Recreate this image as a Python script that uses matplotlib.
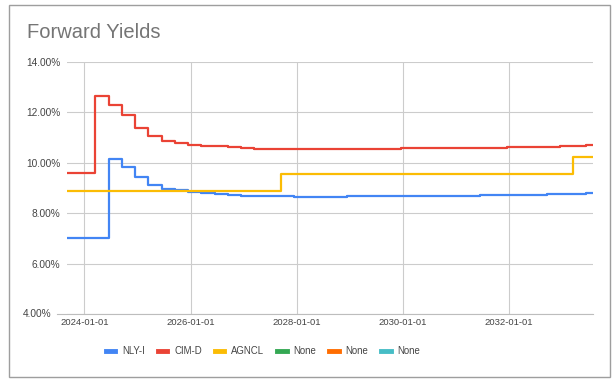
import matplotlib
matplotlib.use("Agg")
import matplotlib.pyplot as plt
from matplotlib.lines import Line2D
from matplotlib.patches import Rectangle
import pandas as pd

plt.rcParams['font.family'] = ['Liberation Sans', 'DejaVu Sans']

# quarterly reset dates (first = start of data, last = end of data)
dates = pd.to_datetime([
    "2023-08-31", "2023-12-15",
    "2024-03-15", "2024-06-15", "2024-09-15", "2024-12-15",
    "2025-03-15", "2025-06-15", "2025-09-15", "2025-12-15",
    "2026-03-15", "2026-06-15", "2026-09-15", "2026-12-15",
    "2027-03-15", "2027-06-15", "2027-09-15", "2027-12-15",
    "2028-03-15", "2028-06-15", "2028-09-15", "2028-12-15",
    "2029-03-15", "2029-06-15", "2029-09-15", "2029-12-15",
    "2030-03-15", "2030-06-15", "2030-09-15", "2030-12-15",
    "2031-03-15", "2031-06-15", "2031-09-15", "2031-12-15",
    "2032-03-15", "2032-06-15", "2032-09-15", "2032-12-15",
    "2033-03-15", "2033-06-15", "2033-07-31",
])

nly_i = [7.00, 7.00, 7.00, 10.17, 9.82, 9.42, 9.13, 8.97, 8.91, 8.86,
         8.80, 8.76, 8.72, 8.70, 8.68, 8.67, 8.67, 8.66, 8.66, 8.66,
         8.66, 8.67, 8.67, 8.68, 8.68, 8.69, 8.69, 8.69, 8.70, 8.70,
         8.70, 8.71, 8.71, 8.72, 8.73, 8.74, 8.75, 8.76, 8.78, 8.81, 8.82]

cim_d = [9.60, 9.60, 12.65, 12.30, 11.88, 11.40, 11.08, 10.88, 10.80, 10.72,
         10.68, 10.65, 10.61, 10.58, 10.56, 10.55, 10.55, 10.54, 10.54, 10.54,
         10.54, 10.55, 10.55, 10.56, 10.56, 10.57, 10.57, 10.58, 10.58, 10.59,
         10.59, 10.60, 10.60, 10.61, 10.62, 10.63, 10.64, 10.65, 10.67, 10.71, 10.72]

agncl = [8.87, 8.87, 8.87, 8.87, 8.87, 8.87, 8.87, 8.87, 8.87, 8.87,
         8.87, 8.87, 8.87, 8.87, 8.87, 8.87, 9.57, 9.57, 9.57, 9.57,
         9.57, 9.57, 9.57, 9.57, 9.57, 9.57, 9.57, 9.57, 9.57, 9.57,
         9.57, 9.57, 9.57, 9.57, 9.57, 9.57, 9.57, 9.57, 10.25, 10.25, 10.25]

# empty series shown in the legend only
none_series = [[], [], []]

series_names = ["NLY-I", "CIM-D", "AGNCL", "None", "None", "None"]
colors = ["#4285f4", "#ea4335", "#fbbc04", "#34a853", "#ff6d01", "#46bdc6"]

y_ticks = [4, 6, 8, 10, 12, 14]
x_ticks = pd.to_datetime(["2024-01-01", "2026-01-01", "2028-01-01", "2030-01-01", "2032-01-01"])

fig = plt.figure(figsize=(6.15, 3.82), dpi=100)
fig.patch.set_facecolor("white")
fig.patches.append(Rectangle((9/615, 1-377/382), 601/615, 372/382, transform=fig.transFigure,
                             fill=False, edgecolor="#9e9e9e", linewidth=1.0))

ax = fig.add_axes([66.5/615, 1-314/382, 526.5/615, 252/382])

for data, name, c in zip([nly_i, cim_d, agncl], series_names[:3], colors[:3]):
    ax.plot(dates, data, color=c, linewidth=1.6, drawstyle="steps-post", label=name, zorder=3)
for data, name, c in zip(none_series, series_names[3:], colors[3:]):
    ax.plot(data, data, color=c, linewidth=1.6, label=name)

ax.set_xlim(dates[0], dates[-1])
ax.set_ylim(4, 14)
ax.set_yticks(y_ticks)
ax.set_yticklabels([f"{v:.2f}%" if v != 4 else "" for v in y_ticks])
ax.set_xticks(x_ticks)
ax.set_xticklabels([d.strftime("%Y-%m-%d") for d in x_ticks])

ax.grid(True, color="#cccccc", linewidth=0.8)
ax.set_axisbelow(True)
for s in ax.spines.values():
    s.set_visible(False)
ax.tick_params(axis="both", length=0, labelcolor="#444444")
ax.tick_params(axis="y", pad=4.5, labelsize=7.3)
ax.tick_params(axis="x", pad=3, labelsize=6.8)

# baseline extends a bit past the plot on the left, with its label shifted
ax.axhline(4, xmin=-10/526.5, xmax=1, color="#bdbdbd", linewidth=0.8, clip_on=False, zorder=1)
ax.text(-15/526.5, 4, "4.00%", transform=ax.get_yaxis_transform(), ha="right", va="center",
        fontsize=7.3, color="#444444")

fig.text(27/615, 1-33/382, "Forward Yields", fontsize=14.5, color="#757575", va="center", ha="left")

handles = [Line2D([], [], color=c, linewidth=3.5) for c in colors]
fig.legend(handles, series_names, loc="center", bbox_to_anchor=(263/615, 1-351/382), ncol=6,
           frameon=False, fontsize=6.9, handlelength=1.0, handletextpad=0.7, columnspacing=1.35,
           labelcolor="#444444")

fig.savefig("out.png", dpi=100)
